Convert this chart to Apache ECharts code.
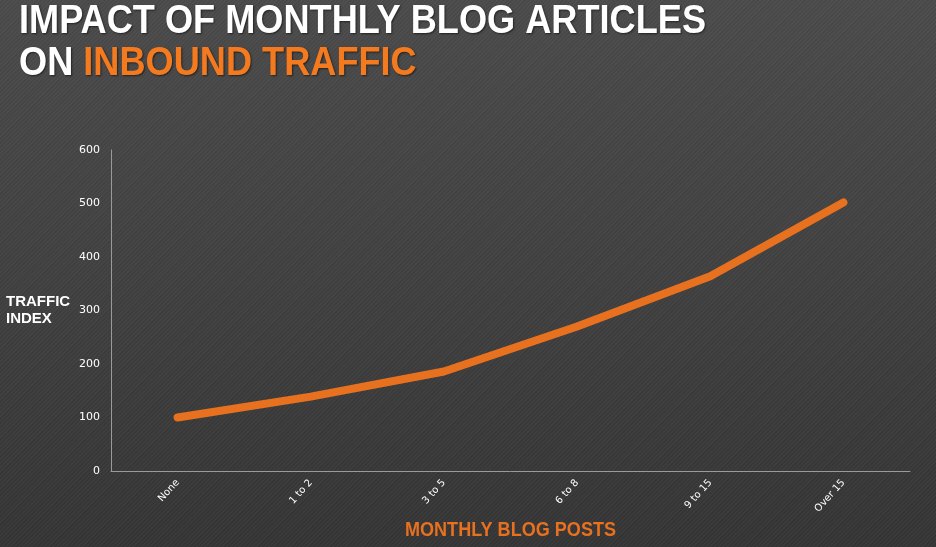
<!DOCTYPE html>
<html>
<head>
<meta charset="utf-8">
<script src="https://cdn.jsdelivr.net/npm/echarts@6/dist/echarts.min.js"></script>
<style>
html,body{margin:0;padding:0;width:936px;height:547px;overflow:hidden;}
body{
  background:
    repeating-linear-gradient(135deg, rgba(255,255,255,0.025) 0px, rgba(255,255,255,0.025) 1px, rgba(0,0,0,0.03) 2px, rgba(0,0,0,0.03) 3px),
    linear-gradient(180deg, #4b4b4b 0%, #414141 50%, #353535 100%);
}
#chart{width:936px;height:547px;}
</style>
</head>
<body>
<div id="chart"></div>
<script>
const categories = ['None', '1 to 2', '3 to 5', '6 to 8', '9 to 15', 'Over 15'];
const trafficIndex = [100, 139, 186, 270, 364, 502];
const yTicks = [0, 100, 200, 300, 400, 500, 600];

const titleLine1 = 'IMPACT OF MONTHLY BLOG ARTICLES';
const titleLine2a = 'ON ';
const titleLine2b = 'INBOUND TRAFFIC';
const xName = 'MONTHLY BLOG POSTS';

const baseFont = "'Liberation Sans', Arial, sans-serif";
const ctx = document.createElement('canvas').getContext('2d');
function measure(text, size, weight) {
  ctx.font = (weight || 'normal') + ' ' + size + 'px ' + baseFont;
  return ctx.measureText(text).width;
}
const titleSize = 40;
const titleWeight = 'bold';
const titleScale = 687 / measure(titleLine1, titleSize, titleWeight);
const xNameSize = 20;
const xNameScale = 211 / measure(xName, xNameSize, 'bold');
const shadow = { textShadowColor: 'rgba(0,0,0,0.55)', textShadowBlur: 2, textShadowOffsetX: 1, textShadowOffsetY: 1 };
const tFont = titleWeight + ' ' + titleSize + 'px ' + baseFont;

const chart = echarts.init(document.getElementById('chart'));
chart.setOption({
  backgroundColor: 'transparent',
  animation: false,
  graphic: [
    {
      type: 'text', x: 19, y: 2, scaleX: titleScale, scaleY: 1, originX: 0, originY: 0,
      style: Object.assign({ text: titleLine1, fill: '#ffffff', font: tFont,
        verticalAlign: 'top', align: 'left' }, shadow)
    },
    {
      type: 'text', x: 19, y: 44, scaleX: titleScale, scaleY: 1, originX: 0, originY: 0,
      style: {
        text: '{w|' + titleLine2a + '}{o|' + titleLine2b + '}',
        verticalAlign: 'top', align: 'left',
        rich: {
          w: Object.assign({ fill: '#ffffff', font: tFont }, shadow),
          o: Object.assign({ fill: '#f47a1f', font: tFont }, shadow)
        }
      }
    },
    {
      type: 'text', x: 6, y: 293,
      style: {
        text: 'TRAFFIC\nINDEX',
        fill: '#ffffff',
        font: "bold 15px " + baseFont,
        lineHeight: 17,
        verticalAlign: 'top'
      }
    },
    {
      type: 'text', x: 510.5, y: 520, scaleX: xNameScale, scaleY: 1, originX: 0, originY: 0,
      style: {
        text: xName,
        fill: '#e8711f',
        font: 'bold ' + xNameSize + 'px ' + baseFont,
        align: 'center',
        verticalAlign: 'top'
      }
    }
  ],
  grid: { left: 111, right: 26, top: 150, bottom: 76, containLabel: false },
  xAxis: {
    type: 'category',
    data: categories,
    boundaryGap: true,
    axisLine: { lineStyle: { color: '#9a9a9a', width: 1 } },
    axisTick: { show: false },
    axisLabel: {
      rotate: 48,
      color: '#ffffff',
      fontSize: 10,
      fontFamily: "'DejaVu Sans', Verdana, sans-serif",
      margin: 10,
      interval: 0
    }
  },
  yAxis: {
    type: 'value',
    min: yTicks[0],
    max: yTicks[yTicks.length - 1],
    interval: 100,
    axisLine: { show: true, lineStyle: { color: '#9a9a9a', width: 1 } },
    axisTick: { show: false },
    splitLine: { show: false },
    axisLabel: {
      color: '#ffffff',
      fontSize: 11,
      fontFamily: "'DejaVu Sans', Verdana, sans-serif",
      margin: 11
    }
  },
  series: [{
    type: 'line',
    data: trafficIndex,
    symbol: 'none',
    smooth: false,
    lineStyle: { color: '#e8711f', width: 8, cap: 'round', join: 'round' }
  }]
});
</script>
</body>
</html>
